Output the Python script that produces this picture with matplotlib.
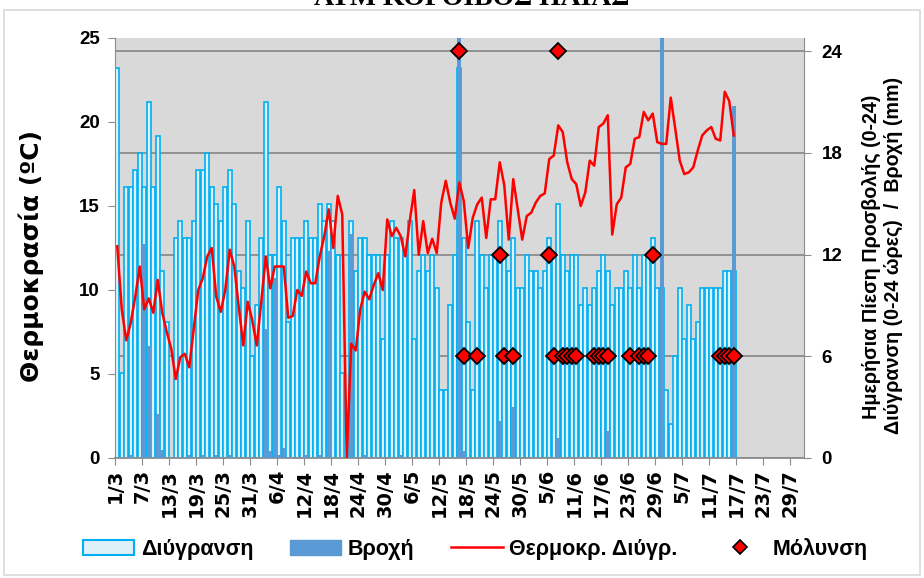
import numpy as np
import matplotlib
matplotlib.use('Agg')
import matplotlib.pyplot as plt
from matplotlib.patches import Patch, Rectangle
from matplotlib.lines import Line2D

# daily data, 1/3 .. 16/7 (day index 0 = 1/3), axis runs to 31/7 (153 days)
n_days = 153
wetness = [23, 5, 16, 16, 17, 18, 16, 21, 16, 19, 11, 8, 0, 13, 14, 13, 13, 14, 17, 17,
           18, 16, 15, 14, 16, 17, 15, 11, 10, 14, 6, 9, 13, 21, 12, 12, 16, 14, 8, 13,
           13, 13, 14, 13, 13, 15, 14, 15, 14, 12, 5, 0, 14, 11, 13, 13, 12, 12, 12, 7,
           12, 14, 13, 13, 12, 14, 7, 11, 12, 11, 12, 10, 4, 4, 9, 12, 23, 13, 8, 4,
           14, 12, 10, 12, 12, 14, 12, 11, 13, 10, 10, 12, 11, 11, 10, 11, 13, 12, 15, 12,
           11, 12, 12, 9, 10, 9, 10, 11, 12, 11, 9, 10, 10, 11, 10, 12, 10, 12, 12, 13,
           10, 10, 4, 2, 6, 10, 7, 9, 7, 8, 10, 10, 10, 10, 10, 11, 11, 11]
rain = [0, 0, 0, 0.2, 0, 0, 12.6, 6.6, 0, 2.6, 0.5, 0, 0, 0, 0, 0, 0.2, 0, 0, 0.2,
        0, 0, 0.2, 0, 0, 0.2, 0, 0, 0, 0, 0, 0, 0, 7.6, 0.4, 10.6, 0.2, 0.6, 0, 0,
        0, 0, 0.2, 0, 0, 0.2, 0, 12.2, 0, 0, 0, 0, 13.2, 0, 0, 0.2, 0, 0, 0, 0,
        0, 0, 0, 0.2, 0, 0, 0, 0, 0, 0, 0, 0, 0, 0, 0, 0, 30, 0.4, 0, 0,
        0, 0, 0, 0, 0, 2.2, 0, 0, 3.0, 0, 0, 0, 0, 0, 0, 0, 0, 0, 1.2, 0,
        0, 0, 0, 0, 0, 0, 0, 0, 0, 1.6, 0, 0, 0, 0, 0, 0, 0, 0, 0, 0,
        0, 30, 0, 0, 0, 0, 0, 0, 0, 0, 0, 0, 0, 0, 0, 0, 0, 20.75]
temp = [12.6, 8.85, 7.0, 8.05, 9.6, 11.4, 8.85, 9.5, 8.65, 10.6, 8.65, 7.5, 6.5, 4.7, 6.0,
        6.2, 5.4, 7.7, 10.0, 10.7, 12.0, 12.5, 9.6, 8.7, 10.0, 12.4, 11.4, 9.0, 6.7, 9.3,
        8.2, 6.7, 9.3, 12.0, 10.1, 11.4, 11.4, 11.4, 8.35, 8.45, 10.0, 9.65, 11.1, 10.4, 10.4,
        12.0, 13.2, 14.8, 12.5, 15.6, 14.5, 0, 6.8, 6.4, 8.85, 9.9, 9.45, 10.3, 11.0, 10.0,
        14.2, 13.2, 13.7, 13.2, 12.0, 14.1, 15.95, 12.1, 14.1, 12.2, 13.05, 12.2, 15.2, 16.5, 15.2,
        14.25, 16.4, 15.3, 12.5, 14.3, 15.1, 15.5, 13.1, 15.4, 15.4, 17.6, 16.25, 13.0, 16.6, 14.8,
        13.0, 14.4, 14.6, 15.2, 15.6, 15.75, 17.8, 18.0, 19.8, 19.4, 17.6, 16.6, 16.3, 15.0, 15.8,
        17.7, 17.4, 19.7, 19.9, 20.4, 13.3, 15.1, 15.5, 17.3, 17.5, 19.0, 19.1, 20.6, 20.1, 20.5,
        18.8, 18.7, 18.7, 21.45, 19.6, 17.7, 16.9, 17.0, 17.3, 18.3, 19.2, 19.5, 19.7, 19.0, 18.9,
        21.8, 21.25, 19.2]
infection_days = [76, 77, 80, 85, 86, 88, 96, 97, 98, 99, 100, 101, 102, 106, 107, 108, 109,
                  114, 116, 117, 118, 119, 134, 135, 136, 137]
infection_level = [24, 6, 6, 12, 6, 6, 12, 6, 24, 6, 6, 6, 6, 6, 6, 6, 6,
                   6, 6, 6, 6, 12, 6, 6, 6, 6]
tick_labels = ['1/3', '7/3', '13/3', '19/3', '25/3', '31/3', '6/4', '12/4', '18/4', '24/4',
               '30/4', '6/5', '12/5', '18/5', '24/5', '30/5', '5/6', '11/6', '17/6', '23/6',
               '29/6', '5/7', '11/7', '17/7', '23/7', '29/7']

arial = ['Liberation Sans', 'DejaVu Sans']
dejavu = ['DejaVu Sans']

fig = plt.figure(figsize=(9.24, 5.78), dpi=100)
ax2 = fig.add_axes([115/924, 120/578, 688.5/924, 420/578])
ax = ax2.twinx()
# temperature axis on the left, hours/mm axis on the right
ax.yaxis.tick_left()
ax.yaxis.set_label_position('left')
ax2.yaxis.tick_right()
ax2.yaxis.set_label_position('right')
ax.set_zorder(ax2.get_zorder() + 1)
ax.patch.set_visible(False)
ax2.set_facecolor('#d9d9d9')

x = np.arange(len(wetness)) + 0.5
ax2.bar(x, wetness, width=0.82, facecolor='#dff0f8', edgecolor='#00b0f0',
        linewidth=1.2, zorder=2)
ax2.bar(x, rain, width=0.95, color='#5b9bd5', linewidth=0, zorder=3)
ax2.plot(np.array(infection_days) + 0.5, infection_level, linestyle='none', marker='D',
         markersize=8, markerfacecolor='#ff0000', markeredgecolor='black',
         markeredgewidth=1.3, zorder=6, clip_on=False)
ax.plot(x, temp, color='#ff0000', linewidth=1.8, zorder=5)

ax2.set_xlim(0, n_days)
ax2.set_ylim(0, 24.77)
ax.set_ylim(0, 25)
ax2.set_yticks([0, 6, 12, 18, 24])
ax.set_yticks([0, 5, 10, 15, 20, 25])
ax2.set_xticks(np.arange(0, n_days, 6))
ax2.set_xticklabels(tick_labels, rotation=90, fontweight='bold', fontsize=14, family=dejavu)
ax2.grid(axis='y', color='#8c8c8c', linewidth=1.3, zorder=1)
ax2.set_axisbelow(True)

for a in (ax, ax2):
    for s in a.spines.values():
        s.set_visible(False)
ax.spines['left'].set_visible(True)
ax.spines['left'].set_color('#8c8c8c')
ax2.spines['right'].set_visible(True)
ax2.spines['right'].set_color('#8c8c8c')
ax2.spines['bottom'].set_visible(True)
ax2.spines['bottom'].set_color('#8c8c8c')
ax2.spines['bottom'].set_linewidth(1.3)

ax.tick_params(axis='y', direction='out', length=5, color='#8c8c8c', pad=6)
ax2.tick_params(axis='y', direction='out', length=5, color='#8c8c8c', pad=8)
ax2.tick_params(axis='x', direction='out', length=5, color='#8c8c8c', pad=3)
for lab in ax.get_yticklabels() + ax2.get_yticklabels():
    lab.set_fontweight('bold')
    lab.set_fontsize(13.5)
    lab.set_family(arial)

fig.text(31/924, 1 - 256/578, 'Θερμοκρασία (ºC)', rotation=90, ha='center', va='center',
         fontsize=18, fontweight='bold', family=dejavu)
fig.text(871/924, 1 - 257/578, 'Ημερήσια Πίεση Προσβολής (0-24)', rotation=90,
         ha='center', va='center', fontsize=14.2, fontweight='bold', family=arial)
fig.text(893/924, 1 - 255/578, 'Διύγρανση (0-24 ώρες)  /  Βροχή (mm)', rotation=90,
         ha='center', va='center', fontsize=14.2, fontweight='bold', family=arial)
fig.text(472/924, 1 - 5/578, 'ΑΤΜ ΚΟΡΟΙΒΟΣ ΗΛΙΑΣ', ha='center', va='baseline',
         fontsize=20, fontweight='bold', family=['Liberation Serif', 'DejaVu Serif'])

handles = [Patch(facecolor='#dff0f8', edgecolor='#00b0f0', linewidth=1.5),
           Patch(facecolor='#5b9bd5', edgecolor='#5b9bd5'),
           Line2D([], [], color='#ff0000', linewidth=1.8),
           Line2D([], [], linestyle='none', marker='D', markersize=7,
                  markerfacecolor='#ff0000', markeredgecolor='black', markeredgewidth=1.2)]
labels = ['Διύγρανση', 'Βροχή', 'Θερμοκρ. Διύγρ.', 'Μόλυνση']
fig.legend(handles, labels, loc='center', bbox_to_anchor=(475/924, 1 - 549/578), ncol=4,
           frameon=False, handlelength=2.4, handleheight=0.75, columnspacing=1.7,
           handletextpad=0.3, prop={'family': arial, 'weight': 'bold', 'size': 15.5})

fig.patches.append(Rectangle((4/924, 3/578), 916/924, 565/578, transform=fig.transFigure,
                             fill=False, edgecolor='#d9d9d9', linewidth=1.2))

fig.savefig('out.png', dpi=100)
